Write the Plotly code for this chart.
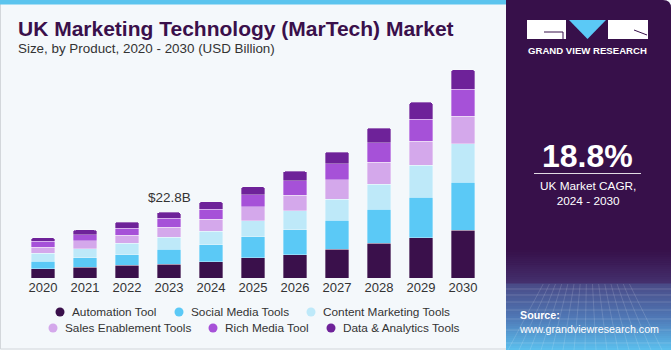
import plotly.graph_objects as go

# ---------------- data ----------------
years = ["2020", "2021", "2022", "2023", "2024", "2025", "2026", "2027", "2028", "2029", "2030"]
automation_tool = [3.23, 3.72, 4.41, 4.86, 5.66, 7.05, 7.99, 9.97, 12.15, 13.99, 16.56]
social_media_tools = [2.67, 3.23, 3.58, 5.10, 5.90, 7.29, 8.68, 10.17, 11.70, 14.13, 16.67]
content_marketing_tools = [2.78, 3.23, 4.06, 4.27, 4.62, 5.56, 6.60, 7.29, 8.78, 11.11, 13.30]
sales_enablement_tools = [2.08, 2.67, 2.88, 3.37, 4.17, 4.76, 5.45, 6.60, 7.64, 8.23, 9.62]
rich_media_tool = [2.08, 2.19, 2.43, 3.13, 3.58, 4.17, 4.97, 5.66, 6.70, 7.74, 9.38]
data_analytics_tools = [1.15, 1.63, 2.08, 2.08, 2.53, 2.88, 3.37, 4.06, 5.10, 5.80, 6.84]

series_names = ["Automation Tool", "Social Media Tools", "Content Marketing Tools",
                "Sales Enablement Tools", "Rich Media Tool", "Data & Analytics Tools"]
series_values = [automation_tool, social_media_tools, content_marketing_tools,
                 sales_enablement_tools, rich_media_tool, data_analytics_tools]
series_colors = ["#3A104B", "#5BC9F6", "#BEE9F9", "#D4A8EB", "#A651D8", "#6E2299"]

highlight_year = "2023"
highlight_label = "$22.8B"
title_text = "UK Marketing Technology (MarTech) Market"
subtitle_text = "Size, by Product, 2020 - 2030 (USD Billion)"
cagr_value = "18.8%"
cagr_label = "UK Market CAGR,<br>2024 - 2030"

# ---------------- geometry helpers (pixel -> paper) ----------------
W, H = 671, 350
L, R, T, B = 22, 484, 60, 278
Y_MAX = (B - T) / 2.88


def px(x):
    return (x - L) / (R - L)


def py(y):
    return (B - y) / (B - T)


FONT = "Liberation Sans, Arial, sans-serif"
BG = "#F4F8FB"
PANEL = "#37104A"

fig = go.Figure()
for name, vals, col in zip(series_names, series_values, series_colors):
    fig.add_trace(go.Bar(
        x=years, y=vals, name=name, marker_color=col,
        marker_line=dict(width=0.6, color="rgba(255,255,255,0.55)"),
        showlegend=False, hoverinfo="x+y+name",
    ))

shapes = []
annotations = []

# outer border + top stripe
shapes.append(dict(type="rect", xref="paper", yref="paper", x0=px(0.5), x1=px(520), y0=py(0), y1=py(349),
                   line=dict(color="#D3D7DB", width=1), fillcolor=BG, layer="below"))
shapes.append(dict(type="rect", xref="paper", yref="paper", x0=px(0), x1=px(520), y0=py(0), y1=py(4.5),
                   line=dict(width=0), fillcolor="#5BC4EE", layer="below"))

# right panel with rounded top-right corner
x0p, x1p, y0p, y1p, rr = 506, 671, 0, 350, 8
path = (f"M {px(x0p)},{py(y1p)} L {px(x0p)},{py(y0p)} L {px(x1p - rr)},{py(y0p)} "
        f"Q {px(x1p)},{py(y0p)} {px(x1p)},{py(y0p + rr)} L {px(x1p)},{py(y1p)} Z")
shapes.append(dict(type="path", xref="paper", yref="paper", path=path,
                   fillcolor=PANEL, line=dict(width=0)))


def lerp(c1, c2, t):
    a = [int(c1[i:i + 2], 16) for i in (1, 3, 5)]
    b = [int(c2[i:i + 2], 16) for i in (1, 3, 5)]
    return "#" + "".join(f"{round(a[k] + (b[k] - a[k]) * t):02x}" for k in range(3))


# gradient at panel bottom
stops = [(250, "#37104A"), (283, "#44306D"), (284, "#4A4A86"), (318, "#4F78B6"), (350, "#5BC0EE")]
for (ya, ca), (yb, cb) in zip(stops[:-1], stops[1:]):
    n = max(1, int((yb - ya) / 2))
    for i in range(n):
        y_a = ya + (yb - ya) * i / n
        y_b = ya + (yb - ya) * (i + 1) / n
        shapes.append(dict(type="rect", xref="paper", yref="paper", x0=px(x0p), x1=px(x1p),
                           y0=py(y_a), y1=py(y_b + 0.4), fillcolor=lerp(ca, cb, (i + 0.5) / n),
                           line=dict(width=0)))
# faint perspective grid
for yy in [289, 295, 302, 310, 319, 330, 343]:
    shapes.append(dict(type="line", xref="paper", yref="paper", x0=px(x0p), x1=px(x1p), y0=py(yy), y1=py(yy),
                       line=dict(color="rgba(255,255,255,0.16)", width=1)))
vx, vy = 588, 200
for xb in range(508, 672, 11):
    xt = vx + (xb - vx) * (284 - vy) / (350 - vy)
    shapes.append(dict(type="line", xref="paper", yref="paper", x0=px(xt), x1=px(xb), y0=py(284), y1=py(350),
                       line=dict(color="rgba(255,255,255,0.14)", width=1)))

# logo
shapes.append(dict(type="rect", xref="paper", yref="paper", x0=px(527), x1=px(566), y0=py(20), y1=py(39),
                   fillcolor="white", line=dict(width=0)))
shapes.append(dict(type="line", xref="paper", yref="paper", x0=px(544), x1=px(563), y0=py(32), y1=py(32),
                   line=dict(color=PANEL, width=1)))
shapes.append(dict(type="line", xref="paper", yref="paper", x0=px(563), x1=px(563), y0=py(32), y1=py(39),
                   line=dict(color=PANEL, width=1)))
shapes.append(dict(type="path", xref="paper", yref="paper",
                   path=f"M {px(569)},{py(20)} L {px(606)},{py(20)} L {px(587.5)},{py(39)} Z",
                   fillcolor="#5BC9F6", line=dict(width=0)))
shapes.append(dict(type="rect", xref="paper", yref="paper", x0=px(608), x1=px(648), y0=py(20), y1=py(39),
                   fillcolor="white", line=dict(width=0)))
shapes.append(dict(type="line", xref="paper", yref="paper", x0=px(634), x1=px(647), y0=py(30), y1=py(35),
                   line=dict(color=PANEL, width=1)))
annotations.append(dict(text="<b>GRAND VIEW RESEARCH</b>", xref="paper", yref="paper", x=px(587.5), y=py(51),
                        xanchor="center", yanchor="middle", showarrow=False,
                        font=dict(family=FONT, size=9.6, color="white")))

# CAGR block
annotations.append(dict(text=f"<b>{cagr_value}</b>", xref="paper", yref="paper", x=px(587.5), y=py(156),
                        xanchor="center", yanchor="middle", showarrow=False,
                        font=dict(family=FONT, size=32, color="white")))
shapes.append(dict(type="line", xref="paper", yref="paper", x0=px(534), x1=px(641), y0=py(173.5), y1=py(173.5),
                   line=dict(color="rgba(255,255,255,0.85)", width=1)))
annotations.append(dict(text=cagr_label, xref="paper", yref="paper", x=px(587.5), y=py(193),
                        xanchor="center", yanchor="middle", showarrow=False, align="center",
                        font=dict(family=FONT, size=11.8, color="white")))
annotations.append(dict(text="<b>Source:</b><br>www.grandviewresearch.com", xref="paper", yref="paper",
                        x=px(517), y=py(322), xanchor="left", yanchor="middle", showarrow=False, align="left",
                        font=dict(family=FONT, size=10.7, color="white")))

# titles
annotations.append(dict(text=f"<b>{title_text}</b>", xref="paper", yref="paper", x=px(16), y=py(28),
                        xanchor="left", yanchor="middle", showarrow=False,
                        font=dict(family=FONT, size=21, color="#3A104B")))
annotations.append(dict(text=subtitle_text, xref="paper", yref="paper", x=px(16), y=py(48),
                        xanchor="left", yanchor="middle", showarrow=False,
                        font=dict(family=FONT, size=13.4, color="#333333")))

# value label on highlighted bar (category axis -> use the category index)
hi = years.index(highlight_year)
hi_total = sum(v[hi] for v in series_values)
annotations.append(dict(text=highlight_label, x=hi, y=hi_total, xref="x", yref="y",
                        xanchor="center", yanchor="bottom", yshift=5, showarrow=False,
                        font=dict(family=FONT, size=13.5, color="#333333")))

# legend (two rows, circle markers)
legend_pos = [(60, 312), (179, 312), (311, 312), (53, 328), (213, 328), (331, 328)]
for (lx, ly), name, col in zip(legend_pos, series_names, series_colors):
    shapes.append(dict(type="circle", xref="paper", yref="paper", x0=px(lx - 4.5), x1=px(lx + 4.5),
                       y0=py(ly - 4.5), y1=py(ly + 4.5), fillcolor=col, line=dict(width=0)))
    annotations.append(dict(text=name, xref="paper", yref="paper", x=px(lx + 10), y=py(ly),
                            xanchor="left", yanchor="middle", showarrow=False,
                            font=dict(family=FONT, size=11.8, color="#333333")))

fig.update_layout(
    width=W, height=H,
    margin=dict(l=L, r=W - R, t=T, b=H - B, pad=0),
    paper_bgcolor=BG, plot_bgcolor=BG,
    barmode="stack", bargap=0.43, barcornerradius=3,
    showlegend=False,
    xaxis=dict(type="category", range=[-0.5, len(years) - 0.5], showgrid=False, zeroline=False,
               showline=False, ticks="", tickfont=dict(family=FONT, size=13, color="#333333")),
    yaxis=dict(range=[0, Y_MAX], visible=False, showgrid=False, zeroline=False),
    shapes=shapes, annotations=annotations,
)

fig.write_html("out.html")
